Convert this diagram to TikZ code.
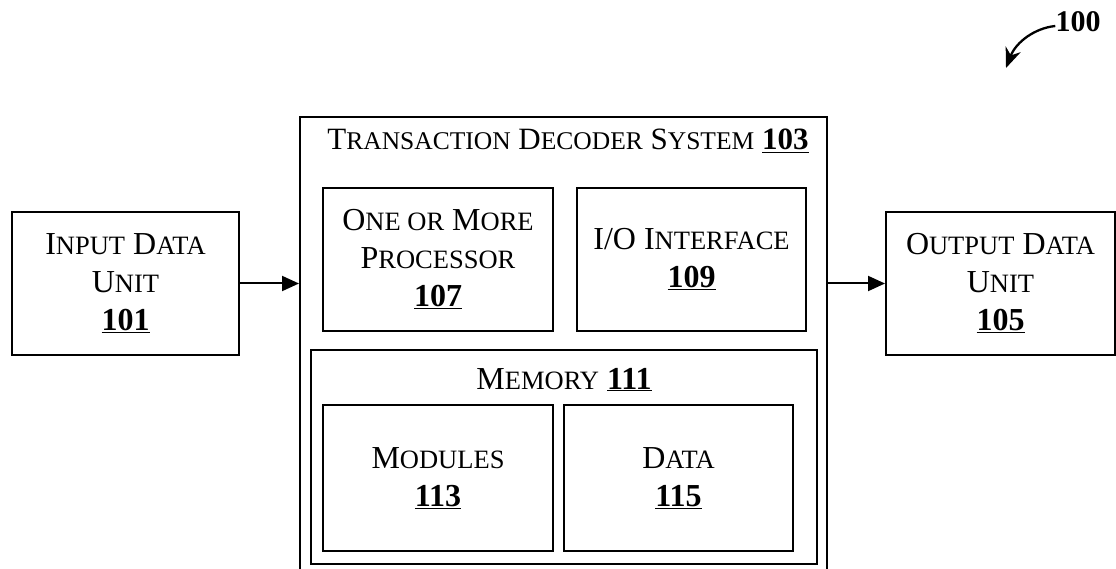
\documentclass[tikz,border=0pt]{standalone}
\usepackage{fontspec}
\setmainfont{Liberation Serif}
\usetikzlibrary{arrows.meta}

% small capitals built from reduced upper-case letters
\newcommand\lsc[1]{{\fontsize{26.5}{38}\selectfont #1}}
% same, for the slightly smaller block title
\newcommand\tsc[1]{{\fontsize{25.5}{38}\selectfont #1}}
% underlined bold reference numeral
\newcommand\refn[1]{\underline{\textbf{#1}}}

\tikzset{
  box/.style={draw, line width=2pt, align=center, inner sep=0pt,
              font=\fontsize{32}{38}\selectfont},
  label/.style={align=center, inner sep=0pt, font=\fontsize{32}{38}\selectfont},
  flow/.style={line width=2pt, -{Triangle[length=17pt,width=15pt]}},
}

\begin{document}
\begin{tikzpicture}[x=1pt, y=-1pt]
  \useasboundingbox (0,0) rectangle (1116,569);
  \clip (0,0) rectangle (1116,569);

  % outer system block, open below the page edge
  \node[box, minimum width=527pt, minimum height=480pt, anchor=north west]
       (sys) at (299,116) {};
  \node[label, anchor=base, font=\fontsize{31}{38}\selectfont] (systitle) at (568,150)
       {T\tsc{RANSACTION} D\tsc{ECODER} S\tsc{YSTEM} \refn{103}};

  % side units
  \node[box, minimum width=227pt, minimum height=143pt] (in) at (125.5,283.5)
       {I\lsc{NPUT} D\lsc{ATA}\\U\lsc{NIT}\\\refn{101}};
  \node[box, minimum width=229pt, minimum height=143pt] (out) at (1000.5,283.5)
       {O\lsc{UTPUT} D\lsc{ATA}\\U\lsc{NIT}\\\refn{105}};

  % inner blocks
  \node[box, minimum width=230pt, minimum height=143pt] (proc) at (438,259.5)
       {O\lsc{NE OR} M\lsc{ORE}\\P\lsc{ROCESSOR}\\\refn{107}};
  \node[box, minimum width=229pt, minimum height=143pt] (io) at (691.5,259.5)
       {I/O I\lsc{NTERFACE}\\\refn{109}};

  \node[box, minimum width=506pt, minimum height=214pt] (mem) at (564,457) {};
  \node[label, anchor=base] (memtitle) at (564,389) {M\lsc{EMORY} \refn{111}};
  \node[box, minimum width=230pt, minimum height=146pt] (mod) at (438,478)
       {M\lsc{ODULES}\\\refn{113}};
  \node[box, minimum width=229pt, minimum height=146pt] (data) at (678.5,478)
       {D\lsc{ATA}\\\refn{115}};

  % data flow
  \draw[flow] (in.east) -- (in.east -| sys.west);
  \draw[flow] (out.west -| sys.east) -- (out.west);

  % figure reference
  \node[label, font=\fontsize{30}{36}\selectfont\bfseries] (fig) at (1078,22) {100};
  \coordinate (figtip) at (1006,68);
  \draw[line width=2.3pt, -{Stealth[length=20pt,width=16pt]}]
       ([yshift=-4pt]fig.west) .. controls (1035,28) and (1016,42) .. (figtip);
\end{tikzpicture}
\end{document}
